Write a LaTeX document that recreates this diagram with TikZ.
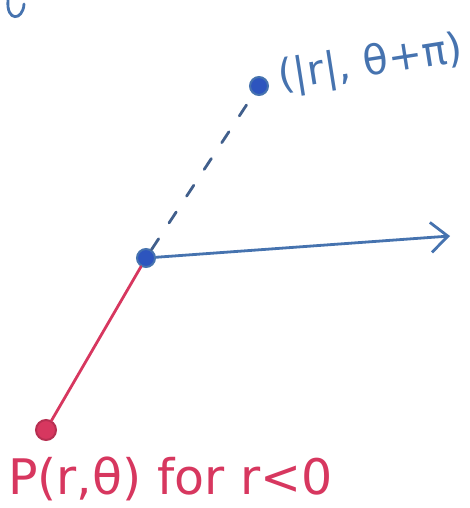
\documentclass[tikz,border=0pt]{standalone}
\usepackage{fontspec}
\setmainfont{DejaVu Sans}
\usetikzlibrary{arrows.meta}
\definecolor{penblue}{RGB}{70,115,175}
\definecolor{lineblue}{RGB}{65,95,140}
\definecolor{dotblue}{RGB}{45,85,190}
\definecolor{penred}{RGB}{215,55,95}
\tikzset{
  bluepen/.style={draw=lineblue, line width=2.8pt, line cap=round},
  redpen/.style={draw=penred, line width=2.8pt, line cap=round},
  dotnode/.style={circle, inner sep=0pt, minimum size=18pt, line width=2pt},
  hand/.style={inner sep=0pt}
}
\begin{document}
\begin{tikzpicture}[x=1pt,y=-1pt]
\useasboundingbox (0,0) rectangle (470,508);
% cut-off stroke at top left
\draw[draw=penblue, line width=2.8pt, line cap=round] (8,0) .. controls (6,22) and (23,21) .. (24,4);
\node[dotnode, fill=dotblue, draw=penblue] (O) at (146,258) {};
\node[dotnode, fill=dotblue, draw=penblue] (Q) at (259,86) {};
\node[dotnode, fill=penred, draw=penred!85!black, minimum size=20pt] (P) at (46,430) {};
\coordinate (E) at (450,236);
\draw[bluepen, dash pattern=on 13pt off 19pt] (O) -- (Q);
\draw[redpen] (O) -- (P);
\draw[bluepen, draw=penblue, -{Straight Barb[length=17pt,width=30pt,line width=2.8pt]}] (O) -- (E);
\node[hand, text=penblue, rotate=9, anchor=base west, font=\fontsize{41}{45}\selectfont] (Ql) at (280,90) {(|r|, θ+π)};
\node[hand, text=penred, anchor=base west, font=\fontsize{49}{53}\selectfont] (Pl) at (8,494) {P(r,θ) for r<0};
\end{tikzpicture}
\end{document}
